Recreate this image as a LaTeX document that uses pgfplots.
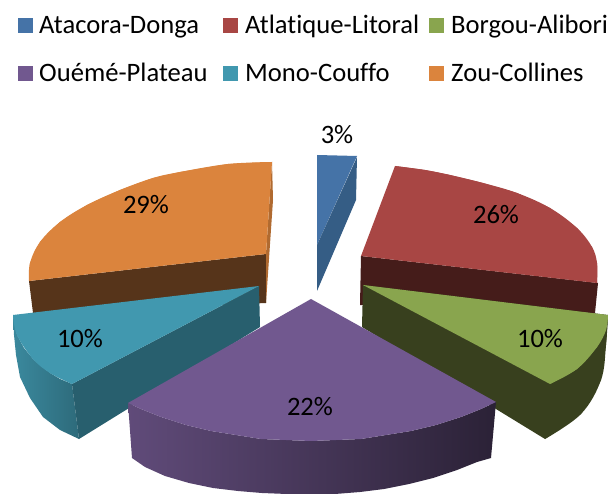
\documentclass[border=0pt]{standalone}
\usepackage{pgfplots}
\pgfplotsset{compat=1.18}
\usepackage{fontspec}
\setmainfont[Ligatures=CommonOff]{Carlito}
\definecolor{cblue}{HTML}{4573A7}\definecolor{cblued}{HTML}{355D85}
\definecolor{cred}{HTML}{A84644}\definecolor{credd}{HTML}{451C1A}
\definecolor{cgreen}{HTML}{89A54E}\definecolor{cgreend}{HTML}{38401E}
\definecolor{cpurple}{HTML}{71588F}
\definecolor{cteal}{HTML}{4198AF}\definecolor{cteald}{HTML}{285F6E}
\definecolor{corange}{HTML}{DB843D}\definecolor{corangem}{HTML}{B06A30}\definecolor{corangd}{HTML}{56341A}
\begin{document}
\begin{tikzpicture}
\begin{axis}[
  scale only axis, width=608pt, height=494pt,
  xmin=0, xmax=608, ymin=0, ymax=494, y dir=reverse,
  hide axis, clip=true, no markers,
  every axis plot/.append style={draw=none, line width=0pt},
  arc/.style={smooth, tension=0.6},
]
% Full canvas, fixes the picture's extent
\addplot[fill=white] coordinates {(0,0)(608,0)(608,494)(0,494)} --cycle;
% Legend swatches
\addplot[fill=cblue] coordinates {(18,18)(33,18)(33,33)(18,33)} --cycle;
\addplot[fill=cred] coordinates {(223,18)(238,18)(238,33)(223,33)} --cycle;
\addplot[fill=cgreen] coordinates {(429,18)(444,18)(444,33)(429,33)} --cycle;
\addplot[fill=cpurple] coordinates {(18,66)(33,66)(33,81)(18,81)} --cycle;
\addplot[fill=cteal] coordinates {(223,66)(238,66)(238,81)(223,81)} --cycle;
\addplot[fill=corange] coordinates {(429,66)(444,66)(444,81)(429,81)} --cycle;
% Zou-Collines (orange)
\addplot[fill=corangd] coordinates {(266,254)(29,281)(33,313)(266,303)} --cycle;
\addplot[fill=corangem] coordinates {(272,162)(273,200)(266,303)(266,254)} --cycle;
\addplot[fill=corange] coordinates {(272,162)(228,164)(180,172)(153,178)(120,190)(87,205)(60,222)(40,242)(30,263)(29,281)(266,254)} --cycle;
\addplot[fill=corange, arc] coordinates {(272,162)(228,164)(180,172)(153,178)(120,190)(87,205)(60,222)(40,242)(30,263)(29,281)} --cycle;
% Atacora-Donga (blue)
\addplot[fill=cblue] coordinates {(317,155)(357,156)(317,245)} --cycle;
\addplot[fill=cblued] coordinates {(357,157)(356,200)(317,291)(317,245)} --cycle;
% Atlantique-Litoral (red)
\addplot[fill=credd] coordinates {(361,256)(598,283)(595,313)(360,305)} --cycle;
\addplot[fill=cred] coordinates {(395,166)(425,170)(450,175)(483,183)(517,193)(550,208)(577,228)(592,247)(597,263)(597,283)(361,256)} --cycle;
\addplot[fill=cred, arc] coordinates {(395,166)(425,170)(450,175)(483,183)(517,193)(550,208)(577,228)(592,247)(597,263)(597,283)} --cycle;
% Mono-Couffo (teal)
\addplot[left color=cteal!90!black, right color=cteal!70!black] coordinates {(13,315)(15,325)(17,335)(24,348)(33,359)(41,366)(50,373)(60,379)(72,384)(79,439)(60,430)(43,417)(30,398)(20,377)(16,355)(14,335)} --cycle;
\addplot[fill=cteald] coordinates {(259,286)(72,384)(79,439)(260,327)} --cycle;
\addplot[fill=cteal] coordinates {(259,286)(13,315)(17,335)(33,359)(50,373)(72,384)} --cycle;
\addplot[fill=cteal, arc] coordinates {(13,315)(17,335)(33,359)(50,373)(72,384)} --cycle;
% Borgou-Alibori (green)
\addplot[fill=cgreend] coordinates {(363,285)(362,327)(545,439)(581,414)(601,380)(606,345)(608,315)} --cycle;
\addplot[fill=cgreend, arc] coordinates {(545,439)(581,414)(601,380)(606,345)(608,315)} --cycle;
\addplot[fill=cgreen] coordinates {(363,285)(608,315)(606,330)(597,347)(577,369)(550,384)} --cycle;
\addplot[fill=cgreen, arc] coordinates {(608,315)(606,330)(597,347)(577,369)(550,384)} --cycle;
% Oueme-Plateau (purple)
\addplot[left color=cpurple!85!black, middle color=cpurple!55!black, right color=cpurple!38!black] coordinates {
 (128,403)(141,409)(161,417)(186,425)(211,431)(236,435)(261,439)(286,440)(311,441)(336,440)(361,439)(386,435)(411,431)(436,425)(461,417)(481,409)(496,402)
 (491,458)(477,462)(457,470)(433,478)(409,484)(384,489)(360,492)(335,494)(311,494)(287,494)(262,493)(238,491)(213,488)(189,483)(165,476)(145,467)(132,458)} --cycle;
\addplot[fill=cpurple] coordinates {(311,299)(496,402)(481,409)(461,417)(436,425)(411,431)(386,435)(361,439)(336,440)(311,441)(286,440)(261,439)(236,435)(211,431)(186,425)(161,417)(141,409)(128,403)} --cycle;
% Text
\begin{scope}[every node/.style={font=\fontsize{26.6}{27}\selectfont, inner sep=0pt, text=black}]
\node[anchor=base west] at (axis cs:39,34) {Atacora-Donga};
\node[anchor=base west] at (axis cs:245,34) {Atlatique-Litoral};
\node[anchor=base west] at (axis cs:451,34) {Borgou-Alibori};
\node[anchor=base west] at (axis cs:39,82) {Ouémé-Plateau};
\node[anchor=base west] at (axis cs:245,82) {Mono-Couffo};
\node[anchor=base west] at (axis cs:451,82) {Zou-Collines};
\node[anchor=base] at (axis cs:337,144) {3\%};
\node[anchor=base] at (axis cs:496,224) {26\%};
\node[anchor=base] at (axis cs:146,214) {29\%};
\node[anchor=base] at (axis cs:80,348) {10\%};
\node[anchor=base] at (axis cs:540,348) {10\%};
\node[anchor=base] at (axis cs:310,415) {22\%};
\end{scope}
\end{axis}
\end{tikzpicture}
\end{document}
